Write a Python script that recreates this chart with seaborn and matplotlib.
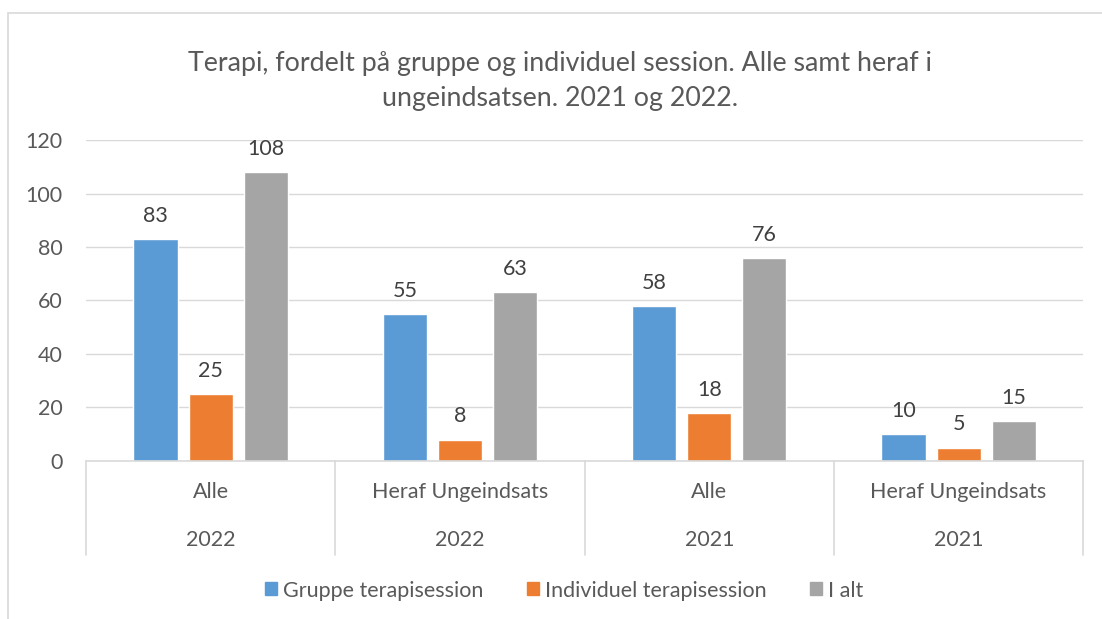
import pandas as pd
import matplotlib.pyplot as plt
import seaborn as sns
from matplotlib.patches import Rectangle

# data
groups = ["Alle", "Heraf Ungeindsats", "Alle", "Heraf Ungeindsats"]
years = ["2022", "2022", "2021", "2021"]
series = ["Gruppe terapisession", "Individuel terapisession", "I alt"]
gruppe = [83, 55, 58, 10]
individuel = [25, 8, 18, 5]
i_alt = [108, 63, 76, 15]
colors = ["#5B9BD5", "#ED7D31", "#A5A5A5"]

sns.set_theme(style="white")
plt.rcParams["font.family"] = ["Lato", "DejaVu Sans"]
txt = "#595959"
fs = 15.5

keys = [f"{g} {y} {i}" for i, (g, y) in enumerate(zip(groups, years))]
rows = []
for name, vals in zip(series, [gruppe, individuel, i_alt]):
    for k, v in zip(keys, vals):
        rows.append({"kat": k, "serie": name, "antal": v})
df = pd.DataFrame(rows)

fig = plt.figure(figsize=(11.02, 6.19), dpi=100)
ax = fig.add_axes([0.078, 0.2553, 0.905, 0.5185])

sns.barplot(data=df, x="kat", y="antal", hue="serie", order=keys,
            hue_order=series, palette=colors, width=0.663, gap=0.2,
            saturation=1, ax=ax, legend=True)

for c in ax.containers:
    ax.bar_label(c, padding=9.5, fontsize=fs, color="#404040")

ax.set_ylim(0, 120)
ax.set_xlim(-0.5, 3.5)
ax.set_yticks(range(0, 121, 20))
ax.yaxis.grid(True, color="#D9D9D9", linewidth=1)
ax.set_axisbelow(True)
ax.tick_params(axis="y", labelsize=fs, labelcolor=txt, length=0, pad=17)
ax.set_xticks([])
ax.set_xlabel("")
ax.set_ylabel("")
for s in ["top", "right", "left"]:
    ax.spines[s].set_visible(False)
ax.spines["bottom"].set_color("#D9D9D9")
ax.spines["bottom"].set_linewidth(1.2)

# multi-level category axis
tr = ax.get_xaxis_transform()
for i, (g, y) in enumerate(zip(groups, years)):
    ax.text(i, -0.097, g, transform=tr, ha="center", va="center",
            fontsize=fs, color=txt)
    ax.text(i, -0.246, y, transform=tr, ha="center", va="center",
            fontsize=fs, color=txt)
for xb in [-0.5, 0.5, 1.5, 2.5, 3.5]:
    ax.plot([xb, xb], [0, -0.293], transform=tr, color="#D9D9D9",
            linewidth=1.2, clip_on=False)

ax.legend_.remove()
handles = [Rectangle((0, 0), 1, 1, color=c) for c in colors]
fig.legend(handles, series, loc="center", bbox_to_anchor=(0.512, 0.046),
           ncol=3, frameon=False, fontsize=fs, labelcolor=txt,
           handlelength=0.55, handleheight=0.55, handletextpad=0.3,
           columnspacing=2.0)

fig.suptitle("Terapi, fordelt på gruppe og individuel session. Alle samt heraf i\nungeindsatsen. 2021 og 2022.",
             x=0.508, y=0.918, fontsize=19.3, color=txt, linespacing=1.5)

# chart frame
fig.patches.append(Rectangle((8 / 1102, -0.1), 1.2, 1 - 13 / 619 + 0.1,
                             transform=fig.transFigure, fill=False,
                             edgecolor="#D9D9D9", linewidth=1.2))

fig.savefig("out.png", dpi=100)
